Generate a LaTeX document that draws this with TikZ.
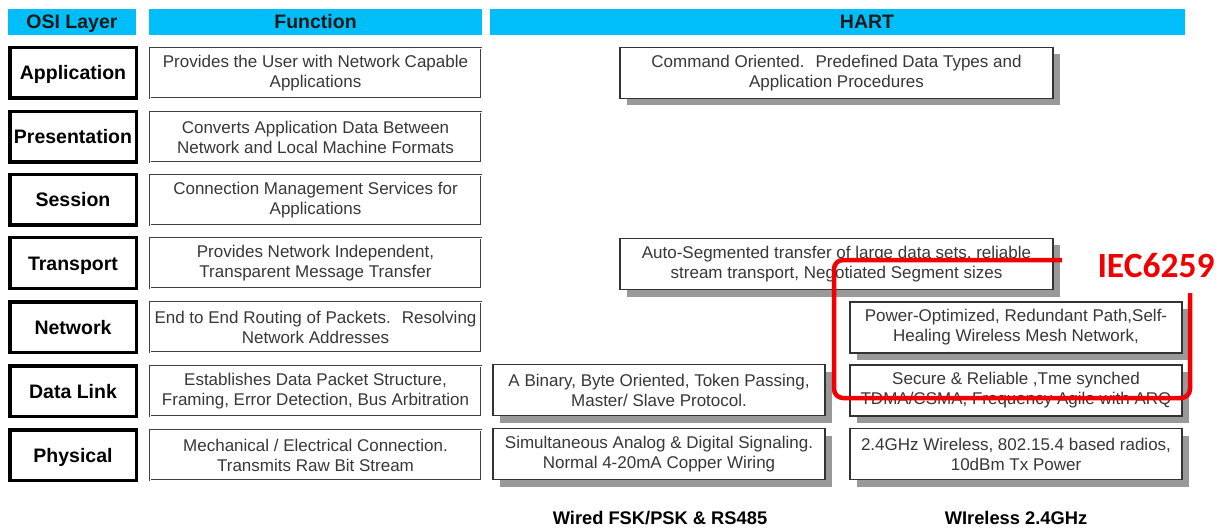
\documentclass[tikz,border=0pt]{standalone}
\usepackage{fontspec}
\setmainfont{Liberation Sans}
\newfontfamily\iecfont{Carlito}
\usetikzlibrary{positioning,shadows}
\definecolor{hdrblue}{RGB}{0,190,250}
\definecolor{iecred}{RGB}{240,0,0}
\definecolor{txtgray}{RGB}{55,55,55}

\tikzset{
  hdr/.style={fill=hdrblue, minimum height=26pt, inner sep=0pt, text height=14pt, text depth=0pt,
    font=\fontsize{19.5}{22}\selectfont\bfseries, text=black!90},
  layerbox/.style={draw=black, line width=3.5pt, minimum width=126.5pt,
    minimum height=50.5pt, inner sep=0pt, text height=14pt, text depth=0pt,
    font=\fontsize{19.5}{22}\selectfont\bfseries},
  funcbox/.style={draw=black!75, double, double distance=0.9pt, line width=0.5pt,
    minimum width=331pt, minimum height=50pt, inner sep=0pt, align=center,
    text=txtgray, font=\fontsize{17}{20}\selectfont},
  hartbox/.style={draw=black!80, line width=1.2pt, fill=white, minimum height=51pt,
    inner sep=0pt, align=center, text=txtgray, font=\fontsize{17}{20}\selectfont,
    drop shadow={shadow xshift=7pt, shadow yshift=-7pt, fill=black!40, opacity=1}},
  wirebox/.style={hartbox, minimum width=332pt},
  medium/.style={font=\fontsize{18.3}{21}\selectfont\bfseries, text height=13pt, text depth=0pt}
}

\begin{document}
\begin{tikzpicture}[x=1pt, y=-1pt]
  \useasboundingbox (0,0) rectangle (1225,529);
  % column headers
  \node[hdr, minimum width=128pt] (h-osi) at (72,22) {OSI Layer};
  \node[hdr, minimum width=333pt] (h-fun) at (315.5,22) {Function};
  \node[hdr, minimum width=695pt] (h-hart) at (837.5,22) {};
  \node[hdr, fill=none] (h-hart-txt) at ([xshift=29.5pt]h-hart.center) {HART};
  % OSI layers and their functions
  \foreach \n/\y/\lab/\fun in {
    app/73/Application/{Provides the User with Network Capable\\Applications},
    pre/137/Presentation/{Converts Application Data Between\\Network and Local Machine Formats},
    ses/200/Session/{Connection Management Services for\\Applications},
    tra/263/Transport/{Provides Network Independent,\\Transparent Message Transfer},
    net/327/Network/{End to End Routing of Packets.~ Resolving\\Network Addresses},
    dl/391/Data Link/{Establishes Data Packet Structure,\\Framing, Error Detection, Bus Arbitration},
    phy/455/Physical/{Mechanical / Electrical Connection.\\Transmits Raw Bit Stream}}
  {
    \node[layerbox] (l-\n) at (73,\y) {\lab};
    \node[funcbox] (f-\n) at (315.5,\y) {\fun};
  }
  % HART
  \node[hartbox, minimum width=433pt] (hart-app) at (836.5,73)
    {Command Oriented.~ Predefined Data Types and\\Application Procedures};
  \node[hartbox, minimum width=433pt] (hart-tra) at (836.5,264)
    {Auto-Segmented transfer of large data sets, reliable\\stream transport, Negotiated Segment sizes};
  \node[wirebox] (hart-net) at (1016,327.5)
    {Power-Optimized, Redundant Path,Self-\\Healing Wireless Mesh Network,};
  \node[wirebox] (wired-dl) at (659,390)
    {A Binary, Byte Oriented, Token Passing,\\Master/ Slave Protocol.};
  \node[wirebox] (wless-dl) at (1016,390.5)
    {Secure \& Reliable ,Tme synched\\TDMA/CSMA, Frequency Agile with ARQ};
  \node[wirebox] (wired-phy) at (659,454)
    {Simultaneous Analog \& Digital Signaling.\\Normal 4-20mA Copper Wiring};
  \node[wirebox] (wless-phy) at (1016,454)
    {2.4GHz Wireless, 802.15.4 based radios,\\10dBm Tx Power};
  \node[medium] (wired) at (660,518) {Wired FSK/PSK \& RS485};
  \node[medium] (wless) at (1016,518) {WIreless 2.4GHz};
  % IEC frame
  \draw[iecred, line width=4.5pt, rounded corners=9pt]
    (1062,260) -- (834,260) -- (834,398) -- (1190,398) -- (1190,293);
  \node[text=iecred, font=\iecfont\bfseries\fontsize{35.5}{40}\selectfont] (iec) at (1156,266) {IEC6259};
\end{tikzpicture}
\end{document}
